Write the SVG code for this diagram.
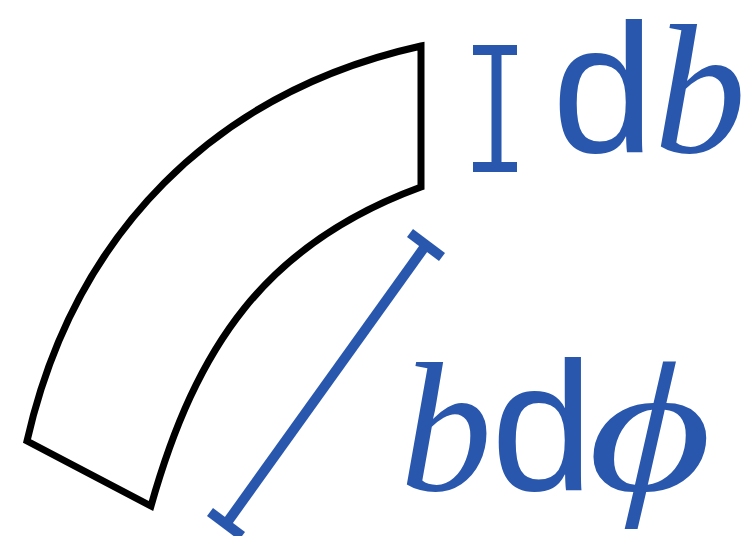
<svg xmlns="http://www.w3.org/2000/svg" width="754" height="536" viewBox="0 0 754 536">
<style>
.outline{fill:none;stroke:#000;stroke-width:7;stroke-linejoin:miter}
.dim{stroke:#2957AD;stroke-width:10;fill:none}
.lbl{fill:#2957AD;font-size:184px}
.up{font-family:"Liberation Sans",Arial,sans-serif}
.it{font-family:"Liberation Serif","DejaVu Serif",serif;font-style:italic}
</style>
<rect width="754" height="536" fill="#fff"/>
<g id="sector">
<path class="outline" d="M421,46 C214,92 74,234 27,441 L151,506 C196,347 265,244 421,187 Z"/>
</g>
<g id="dim-db">
<line class="dim" x1="496.5" y1="50" x2="496.5" y2="167"/>
<line class="dim" x1="473" y1="50" x2="517" y2="50"/>
<line class="dim" x1="473" y1="167" x2="517" y2="167"/>
</g>
<g id="dim-bdphi">
<line class="dim" x1="426" y1="245" x2="226" y2="524"/>
<line class="dim" x1="410" y1="233" x2="442" y2="257"/>
<line class="dim" x1="210" y1="512" x2="242" y2="536"/>
</g>
<g id="label-db">
<text class="lbl" y="152"><tspan class="up" x="552">d</tspan><tspan class="it" x="654">b</tspan></text>
</g>
<g id="label-bdphi">
<text class="lbl" y="490"><tspan class="it" x="400">b</tspan><tspan class="up" x="491">d</tspan></text>
<text class="lbl it" transform="translate(588,490) scale(1.3,1)" x="0" y="0">ϕ</text>
</g>
</svg>
